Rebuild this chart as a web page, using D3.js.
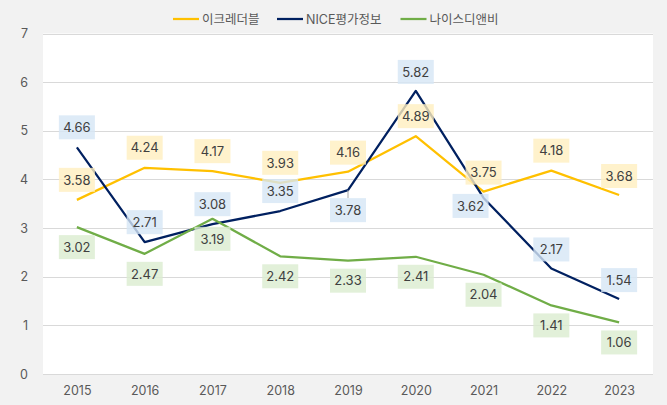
<!DOCTYPE html>
<html>
<head>
<meta charset="utf-8">
<script src="https://cdn.jsdelivr.net/npm/d3@7"></script>
<style>
html,body{margin:0;padding:0;background:#f2f2f2;}
svg{display:block;}
text{font-family:Inter,"Noto Sans CJK KR",sans-serif;}
</style>
</head>
<body>
<svg id="chart" width="667" height="405"></svg>
<script>
const years = [2015, 2016, 2017, 2018, 2019, 2020, 2021, 2022, 2023];
const seriesNames = ["이크레더블", "NICE평가정보", "나이스디앤비"];
const ecredible = [3.58, 4.24, 4.17, 3.93, 4.16, 4.89, 3.75, 4.18, 3.68];
const niceRating = [4.66, 2.71, 3.08, 3.35, 3.78, 5.82, 3.62, 2.17, 1.54];
const niceDnb = [3.02, 2.47, 3.19, 2.42, 2.33, 2.41, 2.04, 1.41, 1.06];
const yTicks = [0, 1, 2, 3, 4, 5, 6, 7];

// label placement (style): offsets of label box centre from point, px
const labelDy = [
  [-20, -20, -20, -20, -19, -20, -19, -20, -19],
  [-20, -20, -20, -20, 20, -19, 8, -19, -19],
  [20, 20, 20, 20, 20, 20, 20, 20, 20]
];
const labelDx = [
  [0, 0, 0, 0, 0, 0, 0, 0, 0],
  [0, 0, 0, 0, 0, 0, -13, 0, 0],
  [0, 0, 0, 0, 0, 0, 0, 0, 0]
];
const lineColors = ["#FFC000", "#002060", "#70AD47"];
const boxColors = ["#FFEFBF", "#D6E6F5", "#DBECCF"];

const svg = d3.select("#chart");
const plot = {left: 43, right: 653, top: 33.5, bottom: 374};

const x = d3.scalePoint().domain(years).range([plot.left, plot.right]).padding(0.5);
const y = d3.scaleLinear().domain([0, 7]).range([plot.bottom, plot.top]);

svg.append("rect").attr("x", plot.left).attr("y", plot.top)
  .attr("width", plot.right - plot.left).attr("height", plot.bottom - plot.top)
  .attr("fill", "#ffffff");

// gridlines
svg.append("g").selectAll("line").data(yTicks).join("line")
  .attr("x1", plot.left).attr("x2", plot.right)
  .attr("y1", d => Math.round(y(d)) + 0.5).attr("y2", d => Math.round(y(d)) + 0.5)
  .attr("stroke", "#d9d9d9").attr("stroke-width", 1);

// y axis labels
const yAxis = d3.axisLeft(y).tickValues(yTicks).tickSize(0).tickPadding(0).tickFormat(d3.format("d"));
const gy = svg.append("g").attr("transform", `translate(28,0)`).call(yAxis);
gy.select(".domain").remove();
gy.selectAll("text").attr("font-size", 12.5).attr("fill", "#595959")
  .attr("font-family", "Inter,sans-serif");

// x axis labels
const xAxis = d3.axisBottom(x).tickSize(0).tickPadding(0);
const gx = svg.append("g").attr("transform", `translate(0,386)`).call(xAxis);
gx.select(".domain").remove();
gx.selectAll("text").attr("font-size", 12.5).attr("fill", "#595959")
  .attr("font-family", "Inter,sans-serif");

const all = [ecredible, niceRating, niceDnb];
const line = d3.line().x((d, i) => x(years[i])).y(d => y(d));

all.forEach((vals, s) => {
  svg.append("path").datum(vals).attr("d", line)
    .attr("fill", "none").attr("stroke", lineColors[s])
    .attr("stroke-width", 2.25).attr("stroke-linejoin", "round");
});

// leader line for moved label (NICE 2019)
{
  const i = 4, s = 1;
  const px = x(years[i]), py = y(all[s][i]);
  svg.append("line").attr("x1", px).attr("x2", px)
    .attr("y1", py).attr("y2", py + labelDy[s][i] - 12)
    .attr("stroke", "#a6a6a6").attr("stroke-width", 1);
}

all.forEach((vals, s) => {
  const g = svg.append("g");
  vals.forEach((v, i) => {
    const cx = x(years[i]) + labelDx[s][i];
    const cy = y(v) + labelDy[s][i];
    const w = 36, h = 24;
    g.append("rect").attr("x", cx - w / 2).attr("y", cy - h / 2)
      .attr("width", w).attr("height", h)
      .attr("fill", boxColors[s]).attr("fill-opacity", 0.8);
    g.append("text").attr("x", cx).attr("y", cy).attr("dy", "0.36em")
      .attr("text-anchor", "middle").attr("font-size", 13)
      .attr("fill", "#404040").text(d3.format(".2f")(v));
  });
});

// legend
const legendX = [173, 277, 400.5];
const leg = svg.append("g");
seriesNames.forEach((n, s) => {
  leg.append("line").attr("x1", legendX[s]).attr("x2", legendX[s] + 26)
    .attr("y1", 19).attr("y2", 19)
    .attr("stroke", lineColors[s]).attr("stroke-width", 2.25);
  leg.append("text").attr("x", legendX[s] + 29).attr("y", 19).attr("dy", "0.36em")
    .attr("font-size", 12.5).attr("fill", "#595959").text(n);
});
</script>
</body>
</html>
